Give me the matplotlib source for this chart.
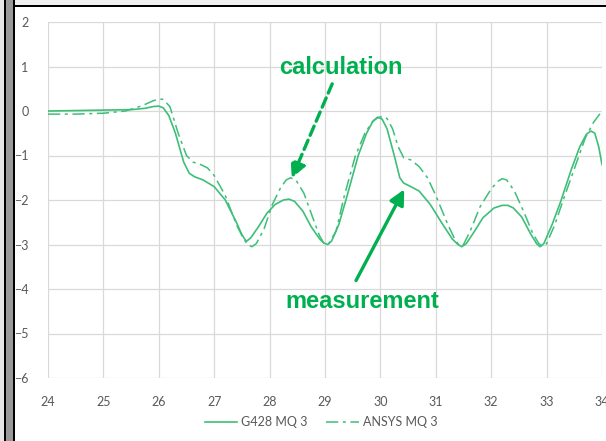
import matplotlib.pyplot as plt
from matplotlib.patches import Rectangle

# measured curve (G428) and calculated curve (ANSYS)
g428_x = [24, 24.5, 25, 25.5, 25.75, 25.9, 26.0, 26.08, 26.18, 26.3, 26.45, 26.55, 26.65,
          26.8, 27.0, 27.2, 27.4, 27.5, 27.58, 27.66, 27.8, 27.95, 28.1, 28.25, 28.35,
          28.45, 28.6, 28.75, 28.9, 28.98, 29.05, 29.12, 29.25, 29.4, 29.6, 29.75, 29.87,
          29.95, 30.03, 30.12, 30.25, 30.35, 30.42, 30.55, 30.7, 30.9, 31.1, 31.3, 31.4,
          31.47, 31.55, 31.7, 31.85, 32.05, 32.2, 32.3, 32.4, 32.55, 32.72, 32.82, 32.88,
          32.95, 33.1, 33.25, 33.45, 33.6, 33.72, 33.8, 33.87, 33.94, 34.0]
g428_y = [0.0, 0.01, 0.02, 0.03, 0.06, 0.1, 0.11, 0.07, -0.1, -0.5, -1.15, -1.4, -1.48,
          -1.55, -1.7, -2.0, -2.5, -2.78, -2.93, -2.85, -2.6, -2.3, -2.1, -2.0, -1.98,
          -2.03, -2.25, -2.6, -2.87, -2.97, -3.0, -2.92, -2.55, -1.9, -1.0, -0.5, -0.22,
          -0.14, -0.18, -0.4, -1.0, -1.5, -1.62, -1.7, -1.8, -2.1, -2.5, -2.88, -3.0,
          -3.05, -2.98, -2.7, -2.4, -2.18, -2.12, -2.12, -2.18, -2.38, -2.78, -2.98, -3.05,
          -2.98, -2.55, -2.05, -1.3, -0.8, -0.52, -0.45, -0.5, -0.8, -1.2]

ansys_x = [24, 24.5, 25, 25.4, 25.7, 25.9, 26.0, 26.08, 26.2, 26.35, 26.5, 26.62, 26.75,
           26.88, 27.0, 27.2, 27.4, 27.52, 27.6, 27.68, 27.76, 27.9, 28.05, 28.2, 28.3,
           28.38, 28.48, 28.62, 28.78, 28.9, 28.98, 29.06, 29.2, 29.35, 29.55, 29.72,
           29.85, 29.95, 30.05, 30.12, 30.22, 30.32, 30.42, 30.55, 30.7, 30.85, 31.0,
           31.2, 31.33, 31.42, 31.5, 31.62, 31.8, 32.0, 32.12, 32.2, 32.28, 32.42, 32.6,
           32.75, 32.86, 32.93, 33.0, 33.15, 33.3, 33.5, 33.7, 33.85, 34.0]
ansys_y = [-0.07, -0.07, -0.05, 0.0, 0.12, 0.23, 0.27, 0.26, 0.1, -0.5, -1.0, -1.15, -1.2,
           -1.28, -1.45, -1.9, -2.55, -2.85, -3.0, -3.05, -2.98, -2.65, -2.1, -1.72, -1.55,
           -1.5, -1.56, -1.85, -2.4, -2.8, -2.97, -3.0, -2.7, -1.9, -1.0, -0.5, -0.25,
           -0.15, -0.12, -0.17, -0.4, -0.8, -1.05, -1.1, -1.25, -1.5, -1.9, -2.5, -2.85,
           -3.02, -3.0, -2.7, -2.15, -1.75, -1.58, -1.52, -1.55, -1.8, -2.3, -2.75, -2.98,
           -3.05, -2.98, -2.55, -2.0, -1.3, -0.6, -0.25, 0.0]

x_ticks = list(range(24, 35))
y_ticks = list(range(-6, 3))

line_col = "#3dbf78"
note_col = "#00b050"
txt_col = "#595959"

plt.rcParams["font.family"] = ["Lato", "DejaVu Sans"]

fig = plt.figure(figsize=(6.06, 4.41), dpi=100)
W, H = 606, 441

# screenshot frame bits around the chart
def px_rect(x0, y0, w, h, color):
    fig.add_artist(Rectangle((x0 / W, 1 - (y0 + h) / H), w / W, h / H,
                             transform=fig.transFigure, color=color, lw=0, zorder=0))

px_rect(0, 0, W, 5, "#f0f0f0")
px_rect(14, 5, W - 14, 2, "#000000")
px_rect(0, 0, 4, H, "#e6e6e6")
px_rect(4, 0, 1.5, H, "#000000")
px_rect(5.5, 0, 7.5, H, "#999999")
px_rect(13, 0, 2, H, "#000000")

ax = fig.add_axes([48 / W, 1 - 378 / H, (602 - 48) / W, (378 - 22) / H])
ax.plot(g428_x, g428_y, color=line_col, lw=1.2, label="G428 MQ 3")
ax.plot(ansys_x, ansys_y, color=line_col, lw=1.1, linestyle=(0, (8, 3, 2, 3)),
        label="ANSYS MQ 3")

ax.set_xlim(24, 34)
ax.set_ylim(-6, 2)
ax.set_xticks(x_ticks)
ax.set_yticks(y_ticks)
ax.grid(True, color="#d9d9d9", lw=0.9)
ax.set_axisbelow(True)
for s in ax.spines.values():
    s.set_visible(False)
ax.tick_params(length=0, labelsize=9, labelcolor=txt_col)
ax.tick_params(axis="x", pad=13)
ax.tick_params(axis="y", pad=14)

# annotations
ax.annotate("", xy=(28.40, -1.51), xytext=(29.13, 0.61),
            arrowprops=dict(arrowstyle="-|>,head_length=0.9,head_width=0.45",
                            color=note_col, lw=2.4, linestyle=(0, (3, 1.6)),
                            shrinkA=0, shrinkB=0))
ax.annotate("", xy=(30.43, -1.76), xytext=(29.56, -3.81),
            arrowprops=dict(arrowstyle="-|>,head_length=0.9,head_width=0.45",
                            color=note_col, lw=2.4, shrinkA=0, shrinkB=0))
ax.text(29.28, 0.98, "calculation", color=note_col, fontsize=17, fontweight="bold",
        family="Liberation Sans", ha="center", va="center")
ax.text(29.67, -4.29, "measurement", color=note_col, fontsize=17, fontweight="bold",
        family="Liberation Sans", ha="center", va="center")

fig.legend(loc="center", bbox_to_anchor=(0.53, 1 - 422 / H), ncol=2, frameon=False,
           fontsize=9, labelcolor=txt_col, handlelength=2.6, columnspacing=1.5,
           handletextpad=0.3)

plt.savefig("out.png", dpi=100)
plt.close()
